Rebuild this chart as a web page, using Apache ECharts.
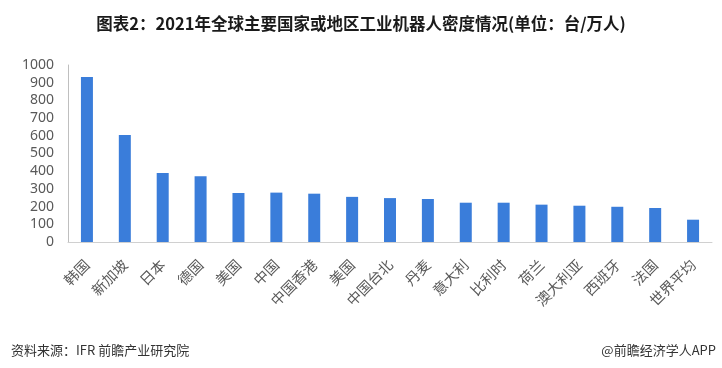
<!DOCTYPE html>
<html><head><meta charset="utf-8">
<script src="https://cdn.jsdelivr.net/npm/echarts@6/dist/echarts.min.js"></script>
<style>html,body{margin:0;padding:0;background:#fff}#c{width:722px;height:368px}</style>
</head><body><div id="c"></div>
<script>
const categories = ['韩国','新加坡','日本','德国','美国','中国','中国香港','美国','中国台北','丹麦','意大利','比利时','荷兰','澳大利亚','西班牙','法国','世界平均'];
const values = [932, 605, 390, 371, 277, 279, 273, 255, 248, 243, 222, 222, 211, 205, 199, 192, 126];
const yTicks = [0, 100, 200, 300, 400, 500, 600, 700, 800, 900, 1000];
const titleText = '图表2：2021年全球主要国家或地区工业机器人密度情况(单位：台/万人)';
const sourceText = '资料来源：IFR 前瞻产业研究院';
const creditText = '@前瞻经济学人APP';

const chart = echarts.init(document.getElementById('c'), null, {renderer: 'canvas'});
chart.setOption({
  animation: false,
  backgroundColor: '#fff',
  title: [
    {text: titleText, left: 'center', top: 10, textStyle: {fontFamily: 'Noto Sans CJK SC', fontSize: 16.5, fontWeight: 'bold', color: '#1a1a1a'}},
    {text: sourceText, left: 6, top: 339, textStyle: {fontFamily: 'Noto Sans CJK SC', fontSize: 13, fontWeight: 'normal', color: '#333'}},
    {text: creditText, right: 1, top: 339, textStyle: {fontFamily: 'Noto Sans CJK SC', fontSize: 13, fontWeight: 'normal', color: '#333'}}
  ],
  grid: {left: 68, right: 10, top: 65, bottom: 126},
  xAxis: {
    type: 'category', data: categories,
    axisLine: {lineStyle: {color: '#D0D0D0'}},
    axisTick: {show: false},
    axisLabel: {rotate: 45, interval: 0, margin: 20, fontFamily: 'Noto Sans CJK SC', fontSize: 14.5, color: '#595959'}
  },
  yAxis: {
    type: 'value', min: yTicks[0], max: yTicks[yTicks.length - 1], interval: 100,
    axisLine: {show: true, lineStyle: {color: '#BFBFBF'}},
    axisTick: {show: false},
    splitLine: {show: false},
    axisLabel: {margin: 14, fontFamily: 'Noto Sans', fontSize: 14, color: '#595959', formatter: v => String(v)}
  },
  series: [{
    type: 'bar', data: values, barWidth: 12,
    itemStyle: {color: '#3A7DDA'}
  }]
});
</script></body></html>
